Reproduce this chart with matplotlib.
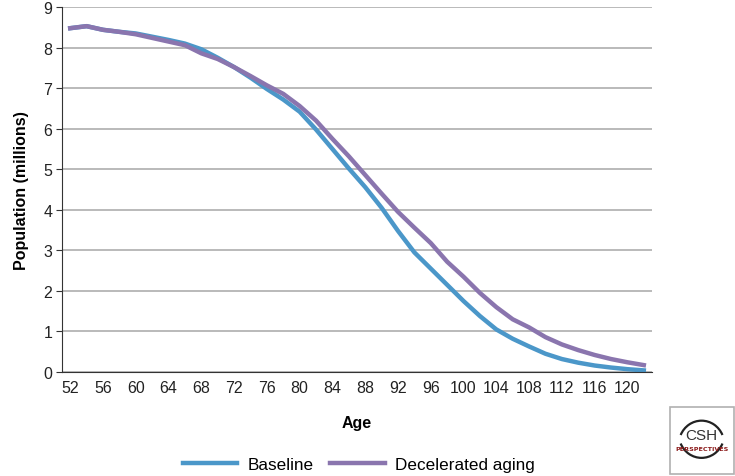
import matplotlib

matplotlib.use("Agg")
import matplotlib.pyplot as plt
from matplotlib.patches import Rectangle, Arc

plt.rcParams["font.family"] = ["Liberation Sans", "DejaVu Sans"]

# ages 52..122 in steps of 2 (category axis)
ages = [52, 54, 56, 58, 60, 62, 64, 66, 68, 70, 72, 74, 76, 78, 80, 82, 84, 86,
        88, 90, 92, 94, 96, 98, 100, 102, 104, 106, 108, 110, 112, 114, 116, 118, 120, 122]
baseline = [8.48, 8.53, 8.44, 8.39, 8.35, 8.27, 8.19, 8.10, 7.96, 7.75, 7.52, 7.26,
            6.98, 6.72, 6.42, 5.98, 5.50, 5.02, 4.56, 4.05, 3.48, 2.95, 2.55, 2.15,
            1.75, 1.38, 1.05, 0.82, 0.63, 0.45, 0.32, 0.23, 0.16, 0.11, 0.07, 0.04]
decelerated = [8.48, 8.53, 8.44, 8.39, 8.33, 8.24, 8.15, 8.06, 7.86, 7.72, 7.52, 7.30,
               7.07, 6.86, 6.56, 6.20, 5.75, 5.32, 4.86, 4.40, 3.95, 3.56, 3.18, 2.72,
               2.35, 1.95, 1.60, 1.30, 1.10, 0.86, 0.68, 0.54, 0.42, 0.32, 0.24, 0.17]
y_ticks = [0, 1, 2, 3, 4, 5, 6, 7, 8, 9]

fig = plt.figure(figsize=(7.35, 4.77), dpi=100)
ax = fig.add_axes([0.0844, 0.218, 0.8027, 0.765])

xs = list(range(len(ages)))
ax.plot(xs, baseline, color="#4b97c9", lw=3.2, label="Baseline")
ax.plot(xs, decelerated, color="#8a75ae", lw=3.2, label="Decelerated aging")

ax.set_xlim(-0.5, len(ages) - 0.5)
ax.set_ylim(0, 9)
ax.set_yticks(y_ticks)
ax.set_xticks(xs[::2])
ax.set_xticklabels([str(a) for a in ages[::2]])
ax.yaxis.grid(True, color="#b4b4b4", lw=1.3)
ax.set_axisbelow(True)
for s in ["top", "right"]:
    ax.spines[s].set_visible(False)
ax.spines["left"].set_color("#333333")
ax.spines["bottom"].set_color("#333333")
ax.tick_params(axis="x", length=0, labelsize=11.5, pad=6, colors="#222222")
ax.tick_params(axis="y", length=4, width=0.8, labelsize=11.5, pad=3, colors="#222222")
ax.tick_params(axis="y", color="#333333")

ax.set_xlabel("Age", fontsize=11.5, fontweight="bold", labelpad=14)
ax.set_ylabel("Population (millions)", fontsize=11.5, fontweight="bold", labelpad=10)

fig.legend(loc="center", bbox_to_anchor=(0.488, 0.025), ncol=2, frameon=False,
           fontsize=12.3, handlelength=3.2, columnspacing=0.95, handletextpad=0.6)

# CSH Perspectives logo box
fig.patches.append(Rectangle((0.911, 0.005), 0.087, 0.14, transform=fig.transFigure,
                             fill=False, edgecolor="#b0b0b0", lw=1.2))
cx = 0.9545
for cy, t1, t2 in [(0.066, 35, 145), (0.088, 215, 325)]:
    fig.patches.append(Arc((cx, cy), 0.062, 0.1, theta1=t1, theta2=t2,
                           transform=fig.transFigure, color="#222222", lw=1.6))
fig.text(cx, 0.087, "CSH", ha="center", va="center", fontsize=11, color="#333333")
fig.text(cx, 0.058, "PERSPECTIVES", ha="center", va="center", fontsize=4.6,
         color="#8b1a1a", fontweight="bold", family="Liberation Sans Narrow")

fig.savefig("out.png", dpi=100)
